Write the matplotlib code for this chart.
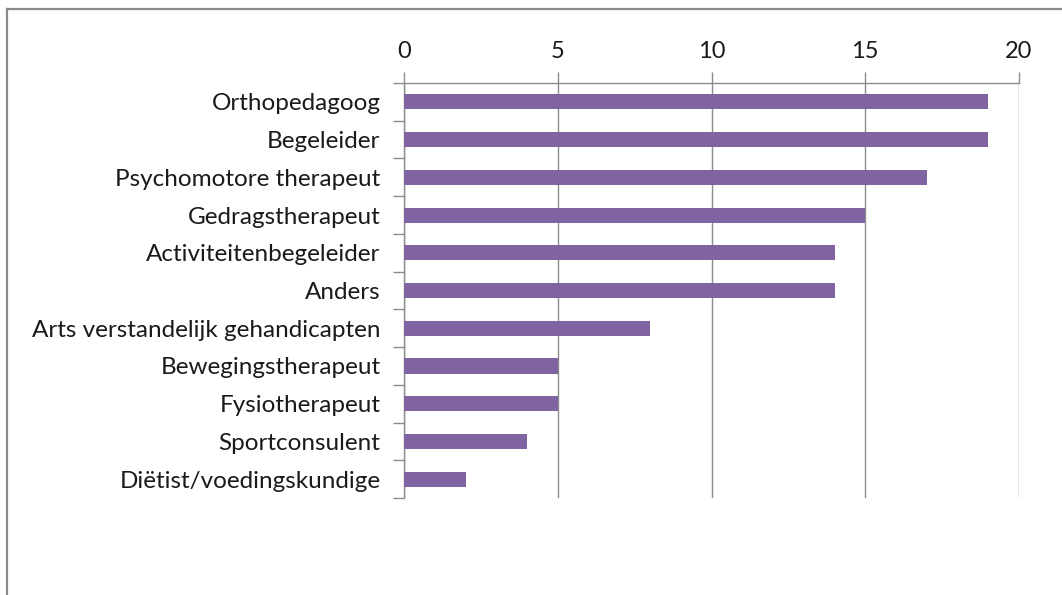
import matplotlib
matplotlib.use('Agg')
from matplotlib import pyplot as plt
from matplotlib.lines import Line2D
import numpy as np

categories = ['Orthopedagoog', 'Begeleider', 'Psychomotore therapeut', 'Gedragstherapeut',
              'Activiteitenbegeleider', 'Anders', 'Arts verstandelijk gehandicapten',
              'Bewegingstherapeut', 'Fysiotherapeut', 'Sportconsulent', 'Diëtist/voedingskundige']
counts = [19, 19, 17, 15, 14, 14, 8, 5, 5, 4, 2]
xticks = [0, 5, 10, 15, 20]

plt.rcParams['font.family'] = ['Lato', 'DejaVu Sans']

W, H = 1062, 595
fig = plt.figure(figsize=(W/100, H/100), dpi=100)
ax = fig.add_axes([404/W, 1-498/H, (1019-404)/W, (498-83)/H])

grid = '#8c8c8c'
pos = np.arange(len(categories))
ax.barh(pos, counts, height=0.4, color='#8064A2', zorder=3)
ax.set_ylim(len(categories)-0.5, -0.5)
ax.set_xlim(0, 20)

ax.set_yticks(pos)
ax.set_yticklabels(categories, fontsize=17.5, color='#1a1a1a')
ax.set_yticks(np.arange(-0.5, len(categories)), minor=True)
ax.tick_params(axis='y', which='major', length=0, pad=17)
ax.tick_params(axis='y', which='minor', length=8, color=grid, width=1)

ax.xaxis.set_ticks_position('top')
ax.set_xticks(xticks)
ax.set_xticklabels([str(v) for v in xticks], fontsize=17, color='#1a1a1a')
ax.tick_params(axis='x', length=8, color=grid, width=1, pad=7)
ax.xaxis.grid(True, color=grid, linewidth=1, zorder=0)

for s in ['bottom', 'right']:
    ax.spines[s].set_visible(False)
for s in ['top', 'left']:
    ax.spines[s].set_color(grid)
    ax.spines[s].set_linewidth(1)

# outer chart frame
fig.add_artist(Line2D([7/W, 7/W], [0, 1-9/H], color='#8a8a8a', linewidth=1.6))
fig.add_artist(Line2D([7/W, 1], [1-9/H, 1-9/H], color='#8a8a8a', linewidth=1.6))

fig.savefig('out.png', dpi=100)
